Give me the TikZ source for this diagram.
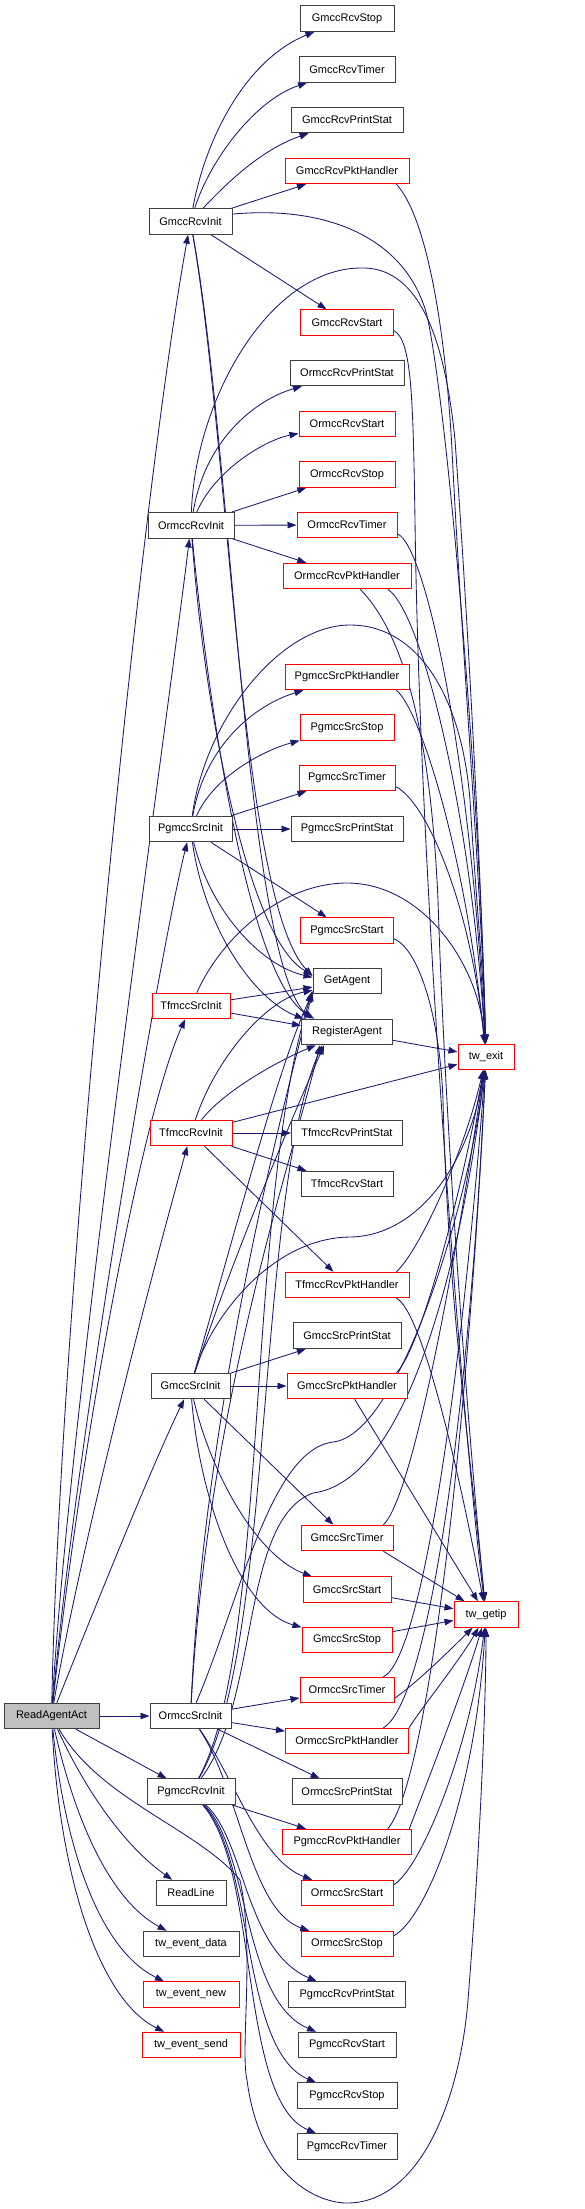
\documentclass[tikz,border=0pt]{standalone}
\usepackage{fontspec}
\setmainfont{Liberation Sans}
\usetikzlibrary{arrows.meta,backgrounds}
\definecolor{edgeblue}{HTML}{191970}
\definecolor{boxgray}{HTML}{404040}
\definecolor{rootfill}{HTML}{BFBFBF}
\tikzset{
 fn/.style={draw=boxgray, line width=1pt, fill=white, minimum height=25.5pt, inner sep=0pt, font=\fontsize{11}{12}\selectfont, text=black},
 rd/.style={fn, draw=red},
 e/.style={draw=edgeblue, line width=0.85pt, -{Triangle[length=9pt,width=6.5pt]}},
}
\begin{document}
\begin{tikzpicture}[x=1pt,y=-1pt]
\useasboundingbox (0,0) rectangle (584,2209);
% right column
\node[fn, minimum width=94pt]  (GRStop)  at (347,18.5)  {GmccRcvStop};
\node[fn, minimum width=96pt]  (GRTimer) at (347,69.5)  {GmccRcvTimer};
\node[fn, minimum width=112pt] (GRPrint) at (347,120)   {GmccRcvPrintStat};
\node[rd, minimum width=124pt] (GRPkt)   at (347,171)   {GmccRcvPktHandler};
\node[rd, minimum width=93pt]  (GRStart) at (347,322.5) {GmccRcvStart};
\node[fn, minimum width=114pt] (ORPrint) at (347,373)   {OrmccRcvPrintStat};
\node[rd, minimum width=96pt]  (ORStart) at (347,424)   {OrmccRcvStart};
\node[rd, minimum width=96pt]  (ORStop)  at (347,474.5) {OrmccRcvStop};
\node[rd, minimum width=100pt] (ORTimer) at (347,525)   {OrmccRcvTimer};
\node[rd, minimum width=128pt] (ORPkt)   at (347,576)   {OrmccRcvPktHandler};
\node[rd, minimum width=124pt] (PSPkt)   at (347,677)   {PgmccSrcPktHandler};
\node[rd, minimum width=94pt]  (PSStop)  at (347,727.7) {PgmccSrcStop};
\node[rd, minimum width=96pt]  (PSTimer) at (347,778)   {PgmccSrcTimer};
\node[fn, minimum width=112pt] (PSPrint) at (347,829)   {PgmccSrcPrintStat};
\node[rd, minimum width=93pt]  (PSStart) at (347,930.5) {PgmccSrcStart};
\node[fn, minimum width=68pt]  (GA)      at (347,981)   {GetAgent};
\node[fn, minimum width=91pt]  (RA)      at (347,1032)  {RegisterAgent};
\node[fn, minimum width=111pt] (TRPrint) at (347,1133)  {TfmccRcvPrintStat};
\node[fn, minimum width=92pt]  (TRStart) at (347,1184)  {TfmccRcvStart};
\node[rd, minimum width=124pt] (TRPkt)   at (347,1285)  {TfmccRcvPktHandler};
\node[fn, minimum width=108pt] (GSPrint) at (347,1335.7){GmccSrcPrintStat};
\node[rd, minimum width=120pt] (GSPkt)   at (347,1386)  {GmccSrcPktHandler};
\node[rd, minimum width=92pt]  (GSTimer) at (347,1538)  {GmccSrcTimer};
\node[rd, minimum width=88pt]  (GSStart) at (347,1589.7){GmccSrcStart};
\node[rd, minimum width=90pt]  (GSStop)  at (347,1640)  {GmccSrcStop};
\node[rd, minimum width=94pt]  (OSTimer) at (347,1690)  {OrmccSrcTimer};
\node[rd, minimum width=123pt] (OSPkt)   at (347,1741)  {OrmccSrcPktHandler};
\node[fn, minimum width=110pt] (OSPrint) at (347,1791.7){OrmccSrcPrintStat};
\node[rd, minimum width=129pt] (PRPkt)   at (347,1842)  {PgmccRcvPktHandler};
\node[rd, minimum width=92pt]  (OSStart) at (347,1893)  {OrmccSrcStart};
\node[rd, minimum width=92pt]  (OSStop)  at (347,1944)  {OrmccSrcStop};
\node[fn, minimum width=117pt] (PRPrint) at (347,1994.5){PgmccRcvPrintStat};
\node[fn, minimum width=98pt]  (PRStart) at (347,2045)  {PgmccRcvStart};
\node[fn, minimum width=100pt] (PRStop)  at (347,2095.7){PgmccRcvStop};
\node[fn, minimum width=100pt] (PRTimer) at (347,2146.5){PgmccRcvTimer};
% middle column
\node[fn, minimum width=83pt] (GRI) at (190.5,221.5) {GmccRcvInit};
\node[fn, minimum width=86pt] (ORI) at (191,525.3)   {OrmccRcvInit};
\node[fn, minimum width=83pt] (PSI) at (190.5,829)   {PgmccSrcInit};
\node[rd, minimum width=78pt] (TSI) at (191,1006)    {TfmccSrcInit};
\node[rd, minimum width=82pt] (TRI) at (191,1133)    {TfmccRcvInit};
\node[fn, minimum width=79pt] (GSI) at (190.5,1386)  {GmccSrcInit};
\node[fn, minimum width=81pt] (OSI) at (190.5,1716)  {OrmccSrcInit};
\node[fn, minimum width=88pt] (PRI) at (191,1791.7)  {PgmccRcvInit};
\node[fn, minimum width=70pt] (RL)  at (191,1893)    {ReadLine};
\node[fn, minimum width=96pt] (TED) at (191,1944)    {tw\_event\_data};
\node[rd, minimum width=96pt] (TEN) at (191,1994.5)  {tw\_event\_new};
\node[rd, minimum width=98pt] (TES) at (191,2045)    {tw\_event\_send};
% root and sinks
\node[fn, fill=rootfill, minimum width=95pt] (RAA) at (51.5,1716) {ReadAgentAct};
\node[rd, minimum width=56pt] (TX) at (486,1057)   {tw\_exit};
\node[rd, minimum width=64pt] (TG) at (486,1614.5) {tw\_getip};

\begin{scope}[on background layer]
% root
\draw[e] (RAA) .. controls (60,1300) and (140,500) .. (GRI);
\draw[e] (RAA) .. controls (70,1400) and (170,700) .. (ORI);
\draw[e] (RAA) .. controls (75,1450) and (160,950) .. (PSI);
\draw[e] (RAA) .. controls (80,1450) and (140,1120) .. (TSI);
\draw[e] (RAA) .. controls (80,1550) and (150,1280) .. (TRI);
\draw[e] (RAA) .. controls (90,1620) and (150,1470) .. (GSI);
\draw[e] (RAA) -- (OSI);
\draw[e] (RAA) -- (PRI);
\draw[e] (RAA) .. controls (90,1800) and (130,1850) .. (RL);
\draw[e] (RAA) .. controls (75,1820) and (110,1900) .. (TED);
\draw[e] (RAA) .. controls (65,1850) and (100,1950) .. (TEN);
\draw[e] (RAA) .. controls (60,1880) and (100,2000) .. (TES);
\draw[e] (RAA) .. controls (100,1800) and (200,1830) .. (240,1880) .. controls (255,1950) and (240,2050) .. (247,2080) .. controls (260,2180) and (320,2203) .. (347,2203) .. controls (420,2203) and (460,2100) .. (468,2000) .. controls (480,1850) and (486,1700) .. (TG);
% GmccRcvInit
\draw[e] (GRI) .. controls (205,140) and (245,60) .. (GRStop);
\draw[e] (GRI) .. controls (210,160) and (255,100) .. (GRTimer);
\draw[e] (GRI) .. controls (225,185) and (260,150) .. (GRPrint);
\draw[e] (GRI) -- (GRPkt);
\draw[e] (GRI) -- (GRStart);
\draw[e] (GRI.10) .. controls (330,205) and (410,240) .. (428,320) .. controls (450,430) and (480,800) .. (TX);
\draw[e] (GRI) .. controls (230,450) and (240,900) .. (GA.172);
\draw[e] (GRI) .. controls (232,450) and (245,950) .. (RA.160);
% OrmccRcvInit
\draw[e] (ORI) .. controls (205,440) and (255,400) .. (ORPrint);
\draw[e] (ORI) .. controls (215,470) and (265,440) .. (ORStart);
\draw[e] (ORI) -- (ORStop);
\draw[e] (ORI) -- (ORTimer);
\draw[e] (ORI) -- (ORPkt);
\draw[e] (ORI) .. controls (195,400) and (270,265) .. (365,268) .. controls (420,270) and (445,340) .. (455,440) .. controls (470,650) and (482,900) .. (TX);
\draw[e] (ORI) .. controls (205,720) and (250,940) .. (GA.170);
\draw[e] (ORI) .. controls (210,720) and (250,980) .. (RA.158);
% PgmccSrcInit
\draw[e] (PSI) .. controls (205,745) and (255,705) .. (PSPkt);
\draw[e] (PSI) .. controls (215,775) and (265,750) .. (PSStop);
\draw[e] (PSI) -- (PSTimer);
\draw[e] (PSI) -- (PSPrint);
\draw[e] (PSI) -- (PSStart);
\draw[e] (PSI) .. controls (205,720) and (280,625) .. (350,625) .. controls (420,625) and (462,700) .. (470,800) .. controls (476,900) and (484,980) .. (TX);
\draw[e] (PSI) .. controls (210,910) and (260,965) .. (GA.174);
\draw[e] (PSI) .. controls (205,930) and (255,1000) .. (RA.163);
% TfmccSrcInit
\draw[e] (TSI) -- (GA.190);
\draw[e] (TSI) -- (RA.172);
\draw[e] (TSI) .. controls (220,940) and (280,883) .. (347,883) .. controls (420,883) and (478,960) .. (TX);
% TfmccRcvInit
\draw[e] (TRI) -- (TRPrint);
\draw[e] (TRI) -- (TRStart);
\draw[e] (TRI) -- (TRPkt);
\draw[e] (TRI) -- (TX);
\draw[e] (TRI) .. controls (215,1060) and (265,1000) .. (GA.195);
\draw[e] (TRI) .. controls (225,1090) and (280,1060) .. (RA.203);
% GmccSrcInit
\draw[e] (GSI) -- (GSPrint);
\draw[e] (GSI) -- (GSPkt);
\draw[e] (GSI) -- (GSTimer);
\draw[e] (GSI) .. controls (210,1470) and (255,1555) .. (GSStart);
\draw[e] (GSI) .. controls (200,1500) and (240,1610) .. (GSStop);
\draw[e] (GSI) .. controls (210,1320) and (270,1238) .. (350,1237) .. controls (420,1236) and (470,1160) .. (TX);
\draw[e] (GSI) .. controls (230,1250) and (280,1060) .. (GA.200);
\draw[e] (GSI) .. controls (235,1250) and (300,1100) .. (RA.210);
% OrmccSrcInit
\draw[e] (OSI) -- (OSTimer);
\draw[e] (OSI) -- (OSPkt);
\draw[e] (OSI) -- (OSPrint);
\draw[e] (OSI) .. controls (235,1780) and (260,1860) .. (OSStart);
\draw[e] (OSI) .. controls (240,1790) and (250,1910) .. (OSStop);
\draw[e] (OSI) .. controls (205,1400) and (285,1100) .. (GA.198);
\draw[e] (OSI) .. controls (208,1400) and (295,1150) .. (RA.206);
\draw[e] (OSI) .. controls (240,1600) and (270,1450) .. (333,1442) .. controls (400,1435) and (470,1200) .. (TX);
% PgmccRcvInit
\draw[e] (PRI) -- (PRPkt);
\draw[e] (PRI) .. controls (245,1840) and (245,1950) .. (PRPrint);
\draw[e] (PRI) .. controls (250,1850) and (242,2000) .. (PRStart);
\draw[e] (PRI) .. controls (255,1860) and (240,2050) .. (PRStop);
\draw[e] (PRI) .. controls (260,1870) and (238,2100) .. (PRTimer);
\draw[e] (PRI) .. controls (270,1650) and (245,1200) .. (GA.196);
\draw[e] (PRI) .. controls (275,1650) and (255,1200) .. (RA.208);
\draw[e] (PRI) .. controls (260,1700) and (240,1520) .. (313,1493) .. controls (420,1480) and (470,1200) .. (TX);
% RegisterAgent
\draw[e] (RA) -- (TX);
% handlers
\draw[e] (GRPkt.-15) .. controls (425,215) and (445,320) .. (452,450) .. controls (462,650) and (482,900) .. (TX);
\draw[e] (GRStart.-10) .. controls (412,340) and (413,400) .. (415,520) .. controls (420,900) and (465,1450) .. (TG);
\draw[e] (ORTimer.-10) .. controls (425,545) and (470,750) .. (TX);
\draw[e] (ORPkt.-45) .. controls (400,630) and (430,720) .. (438,900) .. controls (446,1150) and (470,1450) .. (TG);
\draw[e] (ORPkt.-18) .. controls (420,610) and (470,800) .. (TX);
\draw[e] (PSPkt.-15) .. controls (420,710) and (465,850) .. (TX);
\draw[e] (PSTimer.-10) .. controls (425,800) and (470,900) .. (TX);
\draw[e] (PSStart.-10) .. controls (420,950) and (440,1020) .. (443,1100) .. controls (448,1300) and (470,1450) .. (TG);
\draw[e] (TRPkt.15) .. controls (420,1250) and (465,1150) .. (TX);
\draw[e] (TRPkt.-15) .. controls (420,1310) and (455,1450) .. (TG);
\draw[e] (GSPkt.15) .. controls (420,1350) and (460,1200) .. (TX);
\draw[e] (GSPkt.-60) -- (TG);
\draw[e] (GSTimer.20) .. controls (410,1500) and (450,1300) .. (TX);
\draw[e] (GSTimer.-20) -- (TG);
\draw[e] (GSStart) -- (TG);
\draw[e] (GSStop) -- (TG);
\draw[e] (OSTimer.20) .. controls (420,1660) and (460,1400) .. (TX);
\draw[e] (OSTimer.-10) .. controls (420,1680) and (450,1650) .. (TG);
\draw[e] (OSPkt.20) .. controls (430,1700) and (470,1400) .. (TX);
\draw[e] (OSPkt.12) .. controls (420,1710) and (460,1660) .. (TG);
\draw[e] (PRPkt.12) .. controls (420,1800) and (460,1700) .. (TG);
\draw[e] (PRPkt.18) .. controls (430,1780) and (470,1400) .. (TX);
\draw[e] (OSStart.10) .. controls (420,1870) and (470,1750) .. (TG);
\draw[e] (OSStop.10) .. controls (425,1920) and (475,1800) .. (TG);
\end{scope}
\end{tikzpicture}
\end{document}
